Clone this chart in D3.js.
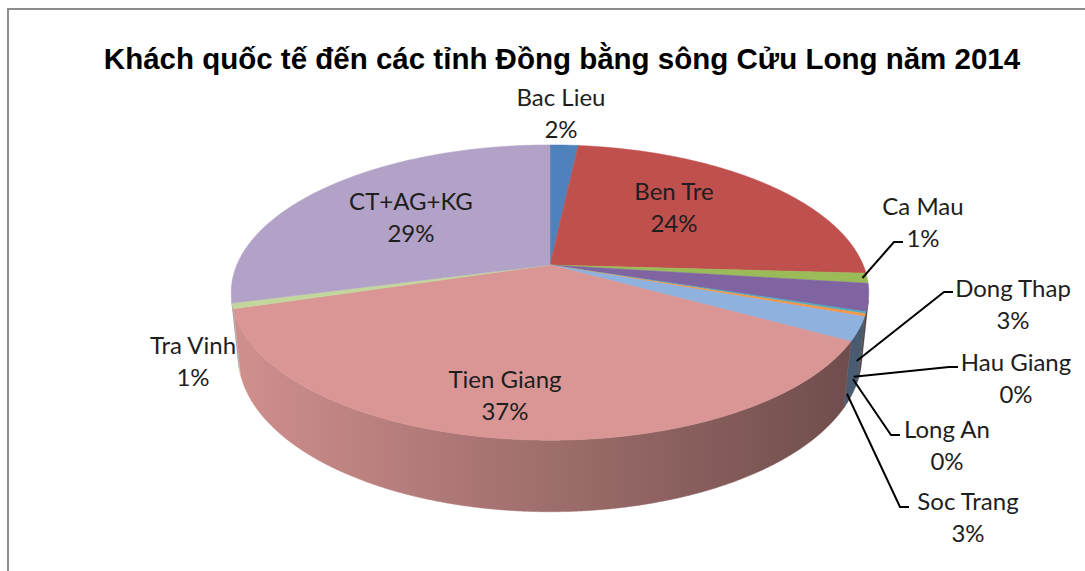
<!DOCTYPE html>
<html>
<head>
<meta charset="utf-8">
<script src="https://cdn.jsdelivr.net/npm/d3@7"></script>
<style>
  html, body { margin: 0; padding: 0; background: #fff; }
  svg { display: block; }
</style>
</head>
<body>
<svg id="chart" width="1085" height="571"></svg>
<script>
// Share of international visitors by province (percent)
const provinces = ["Bac Lieu", "Ben Tre", "Ca Mau", "Dong Thap", "Hau Giang",
                   "Long An", "Soc Trang", "Tien Giang", "Tra Vinh", "CT+AG+KG"];
const shares = [1.7, 24.2, 1.1, 3.0, 0.2, 0.3, 2.6, 37.2, 0.6, 29.1];
const sliceColors = ["#4F81BD", "#C0504D", "#9BBB59", "#8064A2", "#4BACC6",
                     "#F79646", "#8FB1DE", "#D99694", "#C3D69B", "#B3A2C7"];
const titleText = "Khách quốc tế đến các tỉnh Đồng bằng sông Cửu Long năm 2014";

// Label placement: centre of the name line; leader = [end x, end y, attach depth (0 top .. 1 bottom)]
const labelLayout = {
  "Bac Lieu":   { x: 561, y: 98 },
  "Ben Tre":    { x: 674, y: 192 },
  "Ca Mau":     { x: 923, y: 207, leader: [903, 242, 0] },
  "Dong Thap":  { x: 1013, y: 289, leader: [953, 292, 1] },
  "Hau Giang":  { x: 1016, y: 363, leader: [958, 367, 1] },
  "Long An":    { x: 947, y: 430, leader: [900, 435, 1] },
  "Soc Trang":  { x: 968, y: 502, leader: [909, 507, 1] },
  "Tien Giang": { x: 505, y: 380 },
  "Tra Vinh":   { x: 193, y: 346 },
  "CT+AG+KG":   { x: 411, y: 202 }
};

const svg = d3.select("#chart");
const W = 1085, H = 571;

// Frame of the chart area
svg.append("rect").attr("width", W).attr("height", H).attr("fill", "#fff");
svg.append("path")
  .attr("d", `M8,${H} L8,9 L${W},9`)
  .attr("fill", "none").attr("stroke", "#8c8c8c").attr("stroke-width", 2);

// Title
svg.append("text")
  .attr("x", 562).attr("y", 69)
  .attr("text-anchor", "middle")
  .attr("font-family", "'Liberation Sans', Arial, sans-serif")
  .attr("font-weight", "bold")
  .attr("font-size", 29.5)
  .attr("fill", "#000")
  .text(titleText);

// Perspective camera for the 3-D pie (unit radius disc, thickness `depth`)
const cx = 550, cy = 265;
const camDist = 4.77, focal = 1494, sinT = 0.455, cosT = 0.89, depth = 0.228;
function project(theta, r, y) {
  const X = r * Math.sin(theta), Z = -r * Math.cos(theta);
  const d = camDist - sinT * y - cosT * Z;
  return [cx + focal * X / d, cy - focal * (cosT * y - sinT * Z) / d];
}
function arcPoints(a0, a1, y) {
  const n = Math.max(2, Math.ceil((a1 - a0) / (Math.PI / 720)));
  return d3.range(n + 1).map(i => project(a0 + (a1 - a0) * i / n, 1, y));
}

const data = provinces.map((name, i) => ({ name, share: shares[i], color: sliceColors[i] }));
const arcs = d3.pie().sort(null).value(d => d.share)(data);
const line = d3.line();

// Outer wall faces the camera only inside this angular window
const visLo = Math.acos(-1 / (camDist * cosT));
const visHi = 2 * Math.PI - visLo;

const defs = svg.append("defs");
const shade = (c, k) => { const r = d3.rgb(c); return d3.rgb(r.r * k, r.g * k, r.b * k).formatHex(); };
arcs.forEach((a, i) => {
  const g = defs.append("linearGradient")
    .attr("id", "wall" + i).attr("gradientUnits", "userSpaceOnUse")
    .attr("x1", cx - 320).attr("x2", cx + 320).attr("y1", 0).attr("y2", 0);
  d3.range(0, 1.0001, 0.1).forEach(t => {
    const nx = 2 * t - 1;
    g.append("stop").attr("offset", t).attr("stop-color", shade(a.data.color, 0.73 - 0.23 * nx));
  });
});

// Side walls
const walls = svg.append("g");
arcs.forEach((a, i) => {
  const a0 = Math.max(a.startAngle, visLo), a1 = Math.min(a.endAngle, visHi);
  if (a1 <= a0) return;
  const pts = arcPoints(a0, a1, 0).concat(arcPoints(a0, a1, -depth).reverse());
  walls.append("path")
    .attr("d", line(pts) + "Z")
    .attr("fill", `url(#wall${i})`)
    .attr("stroke", `url(#wall${i})`).attr("stroke-width", 0.5);
});

// Top faces
const tops = svg.append("g");
arcs.forEach(a => {
  const pts = [project(0, 0, 0)].concat(arcPoints(a.startAngle, a.endAngle, 0));
  tops.append("path")
    .attr("d", line(pts) + "Z")
    .attr("fill", a.data.color)
    .attr("stroke", a.data.color).attr("stroke-width", 0.5);
});

// Leader lines from the slice's outer rim to its label
const leaders = svg.append("g").attr("fill", "none").attr("stroke", "#000").attr("stroke-width", 2);
arcs.forEach(a => {
  const lay = labelLayout[a.data.name];
  if (!lay.leader) return;
  const mid = (a.startAngle + a.endAngle) / 2;
  const [ex, ey, f] = lay.leader;
  const start = project(mid, 0.985, -depth * f);
  leaders.append("path").attr("d", line([start, [ex - 9, ey], [ex, ey]]));
});

// Data labels: name and rounded percentage
const labels = svg.append("g")
  .attr("font-family", "Lato, 'Open Sans', sans-serif")
  .attr("font-size", 24)
  .attr("fill", "#1e1e1e")
  .attr("text-anchor", "middle");
const total = d3.sum(shares);
arcs.forEach(a => {
  const lay = labelLayout[a.data.name];
  const pct = Math.round(a.data.share / total * 100) + "%";
  labels.append("text").attr("x", lay.x).attr("y", lay.y).attr("dy", "0.35em").text(a.data.name);
  labels.append("text").attr("x", lay.x).attr("y", lay.y + 32).attr("dy", "0.35em").text(pct);
});
</script>
</body>
</html>
